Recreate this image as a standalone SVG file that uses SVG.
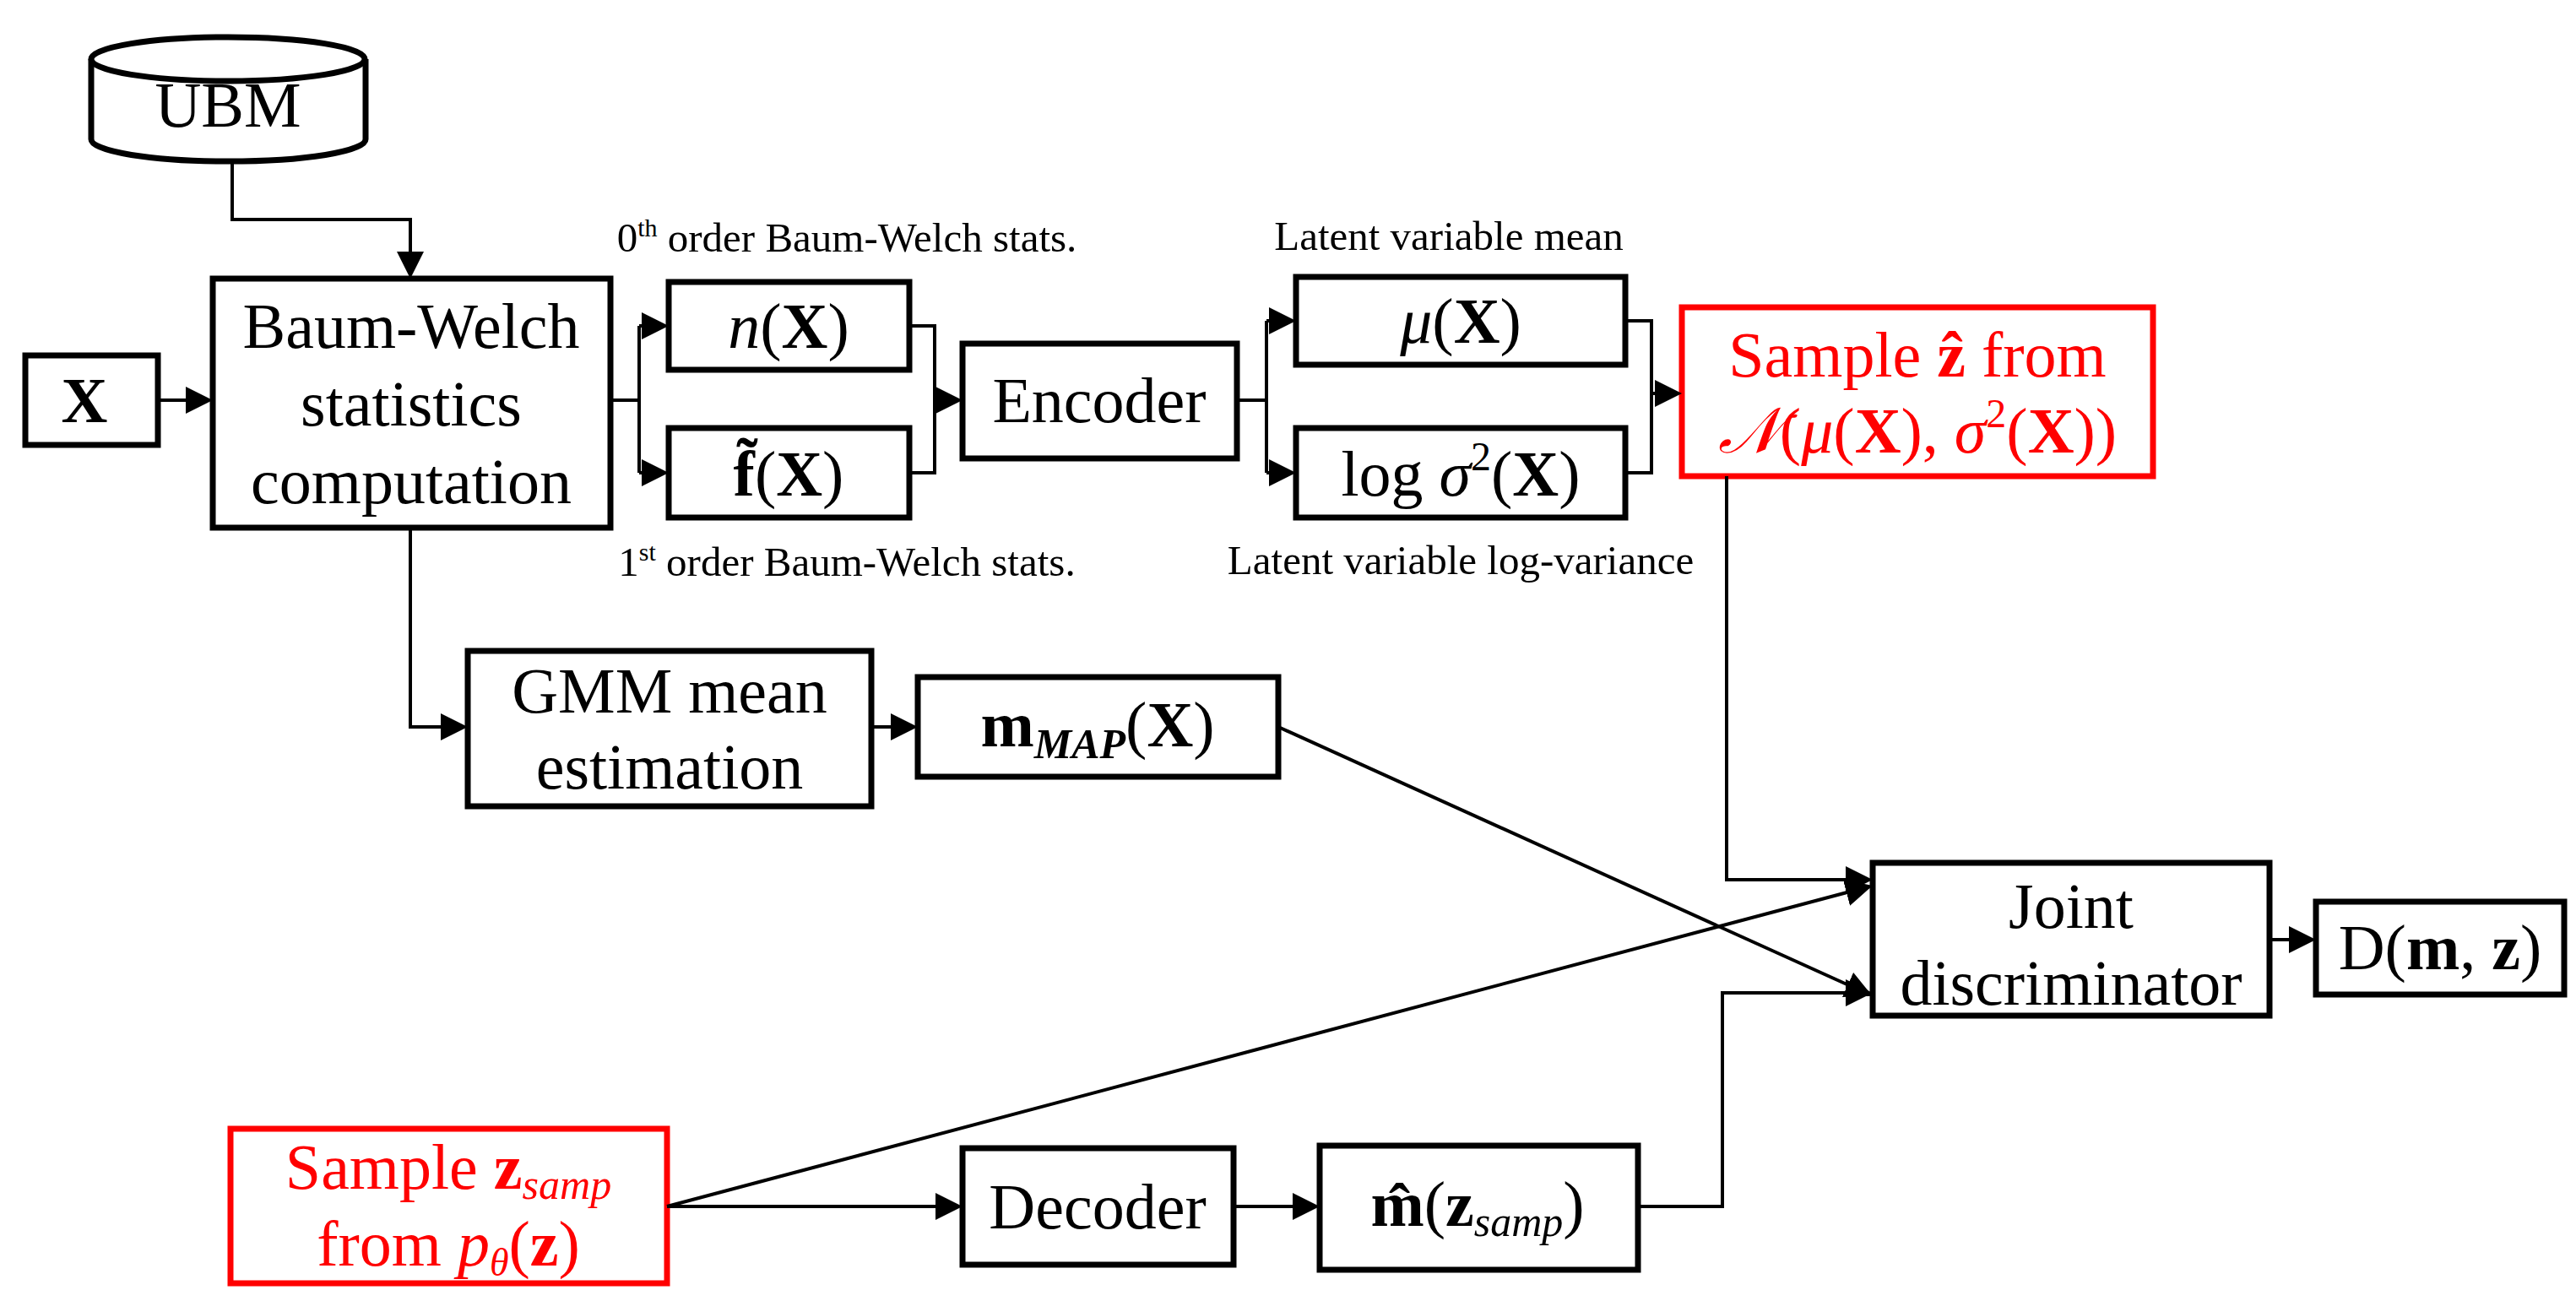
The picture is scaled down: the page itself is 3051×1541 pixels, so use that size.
<svg xmlns="http://www.w3.org/2000/svg" width="3051" height="1541" viewBox="0 0 3051 1541">
<style>
.b{fill:#fff;stroke:#000;stroke-width:7}
.r{fill:#fff;stroke:#f00;stroke-width:7}
.t{font-family:"Liberation Serif",serif;font-size:76px;text-anchor:middle;fill:#000}
.rt{fill:#f00}
.s{font-family:"Liberation Serif",serif;font-size:49px;text-anchor:middle;fill:#000}
.c{fill:none;stroke:#000;stroke-width:4}
</style>
<defs><marker id="a" markerWidth="8" markerHeight="8" refX="7" refY="4" orient="auto" markerUnits="strokeWidth"><path d="M0,0L8,4L0,8z" fill="#000"/></marker></defs>
<g id="ubm"><path class="b" d="M108,70 V165 A162,26 0 0 0 433,165 V70"/><ellipse class="b" cx="270" cy="70" rx="162" ry="26"/><text class="t" x="270" y="150">UBM</text></g>
<g id="x"><rect class="b" x="30" y="421" width="157" height="106"/><text class="t" x="100" y="500" font-weight="bold">X</text></g>
<g id="bw"><rect class="b" x="252" y="330" width="471" height="295"/><text class="t" x="487" y="412">Baum-Welch</text><text class="t" x="487" y="504">statistics</text><text class="t" x="487" y="596">computation</text></g>
<g id="n"><rect class="b" x="792" y="334" width="285" height="104"/><text class="t" x="934" y="412"><tspan font-style="italic">n</tspan>(<tspan font-weight="bold">X</tspan>)</text></g>
<g id="f"><rect class="b" x="792" y="507" width="285" height="106"/><text class="t" x="934" y="587"><tspan font-weight="bold">f̃</tspan>(<tspan font-weight="bold">X</tspan>)</text></g>
<text class="s" x="1003" y="298">0<tspan font-size="30" dy="-18">th</tspan><tspan dy="18"> order Baum-Welch stats.</tspan></text>
<text class="s" x="1003" y="682">1<tspan font-size="30" dy="-18">st</tspan><tspan dy="18"> order Baum-Welch stats.</tspan></text>
<g id="enc"><rect class="b" x="1140" y="407" width="325" height="136"/><text class="t" x="1302" y="500">Encoder</text></g>
<g id="mu"><rect class="b" x="1535" y="328" width="390" height="104"/><text class="t" x="1730" y="406"><tspan font-style="italic">μ</tspan>(<tspan font-weight="bold">X</tspan>)</text></g>
<g id="lv"><rect class="b" x="1535" y="507" width="390" height="106"/><text class="t" x="1730" y="587">log <tspan font-style="italic">σ</tspan><tspan font-size="48" dy="-30">2</tspan><tspan dy="30">(</tspan><tspan font-weight="bold">X</tspan>)</text></g>
<text class="s" x="1716" y="296">Latent variable mean</text>
<text class="s" x="1730" y="680">Latent variable log-variance</text>
<g id="sz"><rect class="r" x="1992" y="364" width="558" height="200"/><text class="t rt" x="2271" y="446">Sample <tspan font-weight="bold">ẑ</tspan> from</text><text class="t rt" x="2271" y="536"><tspan font-style="italic">𝒩</tspan>(<tspan font-style="italic">μ</tspan>(<tspan font-weight="bold">X</tspan>), <tspan font-style="italic">σ</tspan><tspan font-size="48" dy="-30">2</tspan><tspan dy="30">(</tspan><tspan font-weight="bold">X</tspan>))</text></g>
<g id="gmm"><rect class="b" x="554" y="771" width="478" height="184"/><text class="t" x="793" y="844">GMM mean</text><text class="t" x="793" y="934">estimation</text></g>
<g id="mmap"><rect class="b" x="1087" y="802" width="427" height="118"/><text class="t" x="1300" y="884"><tspan font-weight="bold">m</tspan><tspan font-size="50" font-style="italic" font-weight="bold" dy="14">MAP</tspan><tspan dy="-14">(</tspan><tspan font-weight="bold">X</tspan>)</text></g>
<g id="jd"><rect class="b" x="2218" y="1022" width="470" height="181"/><text class="t" x="2453" y="1099">Joint</text><text class="t" x="2453" y="1190">discriminator</text></g>
<g id="d"><rect class="b" x="2743" y="1068" width="294" height="110"/><text class="t" x="2890" y="1148">D(<tspan font-weight="bold">m</tspan>, <tspan font-weight="bold">z</tspan>)</text></g>
<g id="sp"><rect class="r" x="273" y="1337" width="517" height="183"/><text class="t rt" x="531" y="1408">Sample <tspan font-weight="bold">z</tspan><tspan font-size="50" font-style="italic" dy="12">samp</tspan></text><text class="t rt" x="531" y="1499">from <tspan font-style="italic">p</tspan><tspan font-size="46" font-style="italic" dy="12">θ</tspan><tspan dy="-12">(</tspan><tspan font-weight="bold">z</tspan>)</text></g>
<g id="dec"><rect class="b" x="1140" y="1360" width="321" height="138"/><text class="t" x="1300" y="1455">Decoder</text></g>
<g id="mh"><rect class="b" x="1563" y="1357" width="377" height="147"/><text class="t" x="1750" y="1452"><tspan font-weight="bold">m̂</tspan>(<tspan font-weight="bold">z</tspan><tspan font-size="50" font-style="italic" dy="12">samp</tspan><tspan dy="-12">)</tspan></text></g>
<g id="connectors">
<path class="c" d="M275,191V260H486V326" marker-end="url(#a)"/>
<path class="c" d="M187,474H248" marker-end="url(#a)"/>
<path class="c" d="M723,474H757M757,386V560"/>
<path class="c" d="M757,386H788" marker-end="url(#a)"/>
<path class="c" d="M757,560H788" marker-end="url(#a)"/>
<path class="c" d="M1077,386H1107V560H1077M1107,474H1136" marker-end="url(#a)"/>
<path class="c" d="M1465,474H1500M1500,380V560"/>
<path class="c" d="M1500,380H1531" marker-end="url(#a)"/>
<path class="c" d="M1500,560H1531" marker-end="url(#a)"/>
<path class="c" d="M1925,380H1956V560H1925M1956,466H1988" marker-end="url(#a)"/>
<path class="c" d="M2045,564V1042H2214" marker-end="url(#a)"/>
<path class="c" d="M2688,1113H2739" marker-end="url(#a)"/>
<path class="c" d="M486,625V861H550" marker-end="url(#a)"/>
<path class="c" d="M1032,861H1083" marker-end="url(#a)"/>
<path class="c" d="M1514,861L2214,1178" marker-end="url(#a)"/>
<path class="c" d="M790,1429L2214,1050" marker-end="url(#a)"/>
<path class="c" d="M790,1429H1136" marker-end="url(#a)"/>
<path class="c" d="M1461,1429H1559" marker-end="url(#a)"/>
<path class="c" d="M1940,1429H2040V1176H2214" marker-end="url(#a)"/>
</g>
</svg>
